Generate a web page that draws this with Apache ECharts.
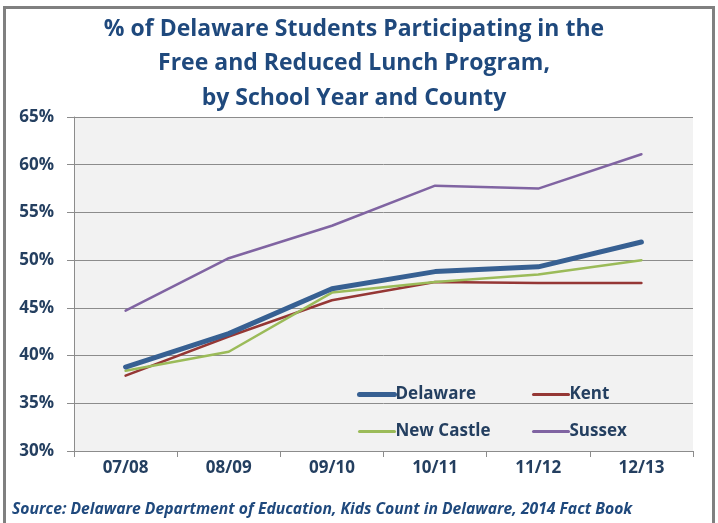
<!DOCTYPE html>
<html>
<head>
<meta charset="utf-8">
<script src="https://cdn.jsdelivr.net/npm/echarts@6/dist/echarts.min.js"></script>
<style>
  html, body { margin: 0; padding: 0; background: #ffffff; }
  #chart { width: 718px; height: 523px; }
</style>
</head>
<body>
<div id="chart"></div>
<script>
// School years on the category axis
const years = ['07/08', '08/09', '09/10', '10/11', '11/12', '12/13'];

// Share of students in the Free and Reduced Lunch Program (%)
const delaware  = [38.8, 42.3, 47.0, 48.8, 49.3, 51.9];
const kent      = [37.9, 42.0, 45.8, 47.7, 47.6, 47.6];
const newCastle = [38.4, 40.4, 46.6, 47.7, 48.5, 50.0];
const sussex    = [44.7, 50.2, 53.6, 57.8, 57.5, 61.1];

const titleLines = [
  '% of Delaware Students Participating in the',
  'Free and Reduced Lunch Program,',
  'by School Year and County'
];
const sourceNote = 'Source: Delaware Department of Education, Kids Count in Delaware, 2014 Fact Book';

const FONT = '"Open Sans", Lato, sans-serif';
const NAVY = '#243f60';

const chart = echarts.init(document.getElementById('chart'), null, { renderer: 'canvas' });

function line(name, data, color, width, z) {
  return {
    name: name,
    type: 'line',
    data: data,
    symbol: 'none',
    z: z,
    lineStyle: { color: color, width: width, cap: 'round', join: 'round' },
    itemStyle: { color: color },
    emphasis: { disabled: true }
  };
}

// Legend key: the series line only, no marker
function key(name, width) {
  return { name: name, lineStyle: { width: width, cap: 'round' } };
}

const legendBase = {
  orient: 'vertical',
  top: 381,
  itemWidth: 35,
  itemHeight: 14,
  itemGap: 20,
  itemStyle: { opacity: 0 },
  textStyle: { color: NAVY, fontFamily: FONT, fontWeight: 'bold', fontSize: 17, padding: [0, 0, 0, -4] },
  selectedMode: false
};

chart.setOption({
  animation: false,
  backgroundColor: '#ffffff',
  title: {
    text: titleLines.join('\n'),
    left: 349,
    textAlign: 'center',
    top: 7,
    textStyle: {
      color: '#1f497d',
      fontFamily: FONT,
      fontWeight: 'bold',
      fontSize: 23,
      lineHeight: 34.5
    }
  },
  grid: {
    left: 74,
    right: 25,
    top: 117,
    bottom: 72,
    show: true,
    backgroundColor: '#f2f2f2',
    borderWidth: 0
  },
  legend: [
    Object.assign({}, legendBase, { left: 352, data: [key('Delaware', 5), key('New Castle', 3)] }),
    Object.assign({}, legendBase, { left: 527, data: [key('Kent', 3), key('Sussex', 3)] })
  ],
  xAxis: {
    type: 'category',
    data: years,
    boundaryGap: true,
    axisLine: { show: true, lineStyle: { color: '#8c8c8c', width: 1 } },
    axisTick: { show: true, length: 6, inside: false, lineStyle: { color: '#8c8c8c' } },
    axisLabel: {
      color: NAVY,
      fontFamily: FONT,
      fontWeight: 'bold',
      fontSize: 17,
      margin: 9
    }
  },
  yAxis: {
    type: 'value',
    min: 30,
    max: 65,
    interval: 5,
    axisLine: { show: true, lineStyle: { color: '#8c8c8c', width: 1 } },
    axisTick: { show: true, length: 7, lineStyle: { color: '#8c8c8c' } },
    splitLine: { show: true, lineStyle: { color: '#8c8c8c', width: 1 } },
    axisLabel: {
      color: NAVY,
      fontFamily: FONT,
      fontWeight: 'bold',
      fontSize: 17,
      margin: 20,
      formatter: '{value}%'
    }
  },
  series: [
    line('Delaware', delaware, '#376092', 5, 5),
    line('Kent', kent, '#953735', 2.5, 3),
    line('New Castle', newCastle, '#9bbb59', 2.5, 4),
    line('Sussex', sussex, '#8064a2', 2.5, 2)
  ],
  graphic: [
    {
      type: 'rect',
      shape: { x: 4.5, y: 7.5, width: 709, height: 540 },
      style: { fill: 'none', stroke: '#808080', lineWidth: 3 },
      silent: true,
      z: 100
    },
    {
      type: 'text',
      left: 12,
      top: 502,
      style: {
        text: sourceNote,
        fill: '#1f497d',
        font: 'italic bold 15.7px ' + FONT
      },
      silent: true
    }
  ]
});
</script>
</body>
</html>
